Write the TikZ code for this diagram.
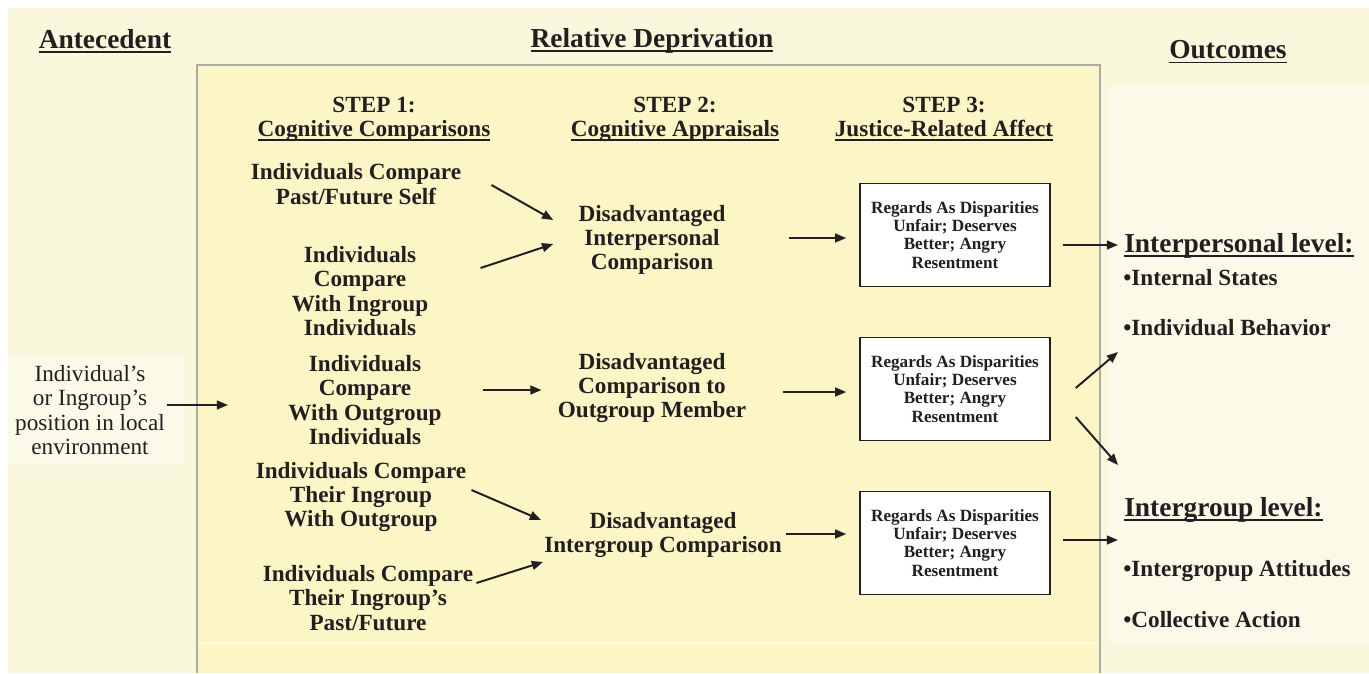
\documentclass[tikz,border=0pt]{standalone}
\usepackage{fontspec}
\setmainfont{Liberation Serif}
\usetikzlibrary{arrows.meta, positioning, calc}

\definecolor{creambg}{HTML}{FAF8DC}
\definecolor{stepfill}{HTML}{FCF5C5}
\definecolor{stepline}{HTML}{ABABA0}
\definecolor{panelbg}{HTML}{FBFAE8}
\definecolor{ink}{HTML}{231F20}

% underline close to the baseline
\newcommand{\ulhead}[1]{\setbox0=\hbox{#1}\rlap{\vrule height -2.0pt depth 3.4pt width \wd0}\box0}

\begin{document}
\begin{tikzpicture}[x=0.025cm, y=-0.025cm,
    every node/.style={text=ink, inner sep=0pt},
    head/.style={font=\fontsize{19.5}{22}\selectfont\bfseries},
    steptxt/.style={align=center, font=\fontsize{16.5}{17.2}\selectfont\bfseries},
    affbox/.style={draw=ink, fill=white, line width=1pt, minimum width=4.75cm, minimum height=2.575cm,
        align=center, font=\fontsize{12.2}{12.9}\selectfont\bfseries},
    outtxt/.style={anchor=west, font=\fontsize{16.5}{17}\selectfont\bfseries},
    arr/.style={draw=ink, line width=1.4pt, -{Triangle[length=2.8mm, width=2.2mm]}}]
    \useasboundingbox (0,0) rectangle (1369,673);

    % background
    \fill[white] (0,0) rectangle (1369,673);
    \fill[creambg] (8,8) rectangle (1369,673);
    \fill[panelbg] (1108,85) rectangle (1369,643);
    \fill[panelbg] (8,355) rectangle (185,465);
    \fill[stepfill] (197,65) rectangle (1100,673);
    \draw[stepline, line width=2pt] (197,673) -- (197,65) -- (1100,65) -- (1100,673);
    \draw[white!55!stepfill, line width=1pt] (199,643) -- (1098,643);

    % headings
    \node[head] (ante) at (105,41) {\ulhead{Antecedent}};
    \node[head] (reldep) at (652,41) {\ulhead{Relative Deprivation}};
    \node[head] (outc) at (1228,52) {\ulhead{Outcomes}};

    \node[steptxt] (step1) at (374,119) {STEP 1:\\ \ulhead{Cognitive Comparisons}};
    \node[steptxt] (step2) at (675,119) {STEP 2:\\ \ulhead{Cognitive Appraisals}};
    \node[steptxt] (step3) at (944,119) {STEP 3:\\ \ulhead{Justice-Related Affect}};

    % antecedent
    \node[align=center, font=\fontsize{16.5}{17.2}\selectfont] (pos) at (90,410)
        {Individual’s\\ or Ingroup’s\\ position in local\\ environment};
    \coordinate (entry) at (228,405);

    % step 1
    \node[steptxt] (cmp1) at (356,184) {Individuals Compare\\ Past/Future Self};
    \node[steptxt] (cmp2) at (360,291) {Individuals\\ Compare\\ With Ingroup\\ Individuals};
    \node[steptxt] (cmp3) at (365,400) {Individuals\\ Compare\\ With Outgroup\\ Individuals};
    \node[steptxt] (cmp4) at (361,497) {Individuals Compare\\ Their Ingroup\\ With Outgroup};
    \node[steptxt] (cmp5) at (368,598) {Individuals Compare\\ Their Ingroup’s\\ Past/Future};

    % step 2
    \node[steptxt] (apr1) at (652,240) {Disadvantaged\\ Interpersonal\\ Comparison};
    \node[steptxt] (apr2) at (652,388) {Disadvantaged\\ Comparison to\\ Outgroup Member};
    \node[steptxt] (apr3) at (663,535) {Disadvantaged\\ Intergroup Comparison};

    % step 3
    \node[affbox] (aff1) at (955,235) {Regards As Disparities\\ Unfair; Deserves\\ Better; Angry\\ Resentment};
    \node[affbox] (aff2) at (955,389) {Regards As Disparities\\ Unfair; Deserves\\ Better; Angry\\ Resentment};
    \node[affbox] (aff3) at (955,543) {Regards As Disparities\\ Unfair; Deserves\\ Better; Angry\\ Resentment};

    % outcomes
    \node[outtxt, font=\fontsize{19.5}{22}\selectfont\bfseries] (inter) at (1124,246) {\ulhead{Interpersonal level:}};
    \node[outtxt] (states) at (1123,278) {•Internal States};
    \node[outtxt] (behav) at (1123,328) {•Individual Behavior};
    \node[outtxt, font=\fontsize{19.5}{22}\selectfont\bfseries] (group) at (1124,510) {\ulhead{Intergroup level:}};
    \node[outtxt] (attit) at (1123,571) {•Intergropup Attitudes};
    \node[outtxt] (collect) at (1123,620) {•Collective Action};
    \coordinate (out1) at (1118,245);
    \coordinate (out2) at (1118,352);
    \coordinate (out3) at (1118,465);
    \coordinate (out4) at (1118,540);

    % arrows
    \draw[arr] ([shift={(2,-5)}]pos.east) -- (entry);
    \draw[arr] ([shift={(30,1)}]cmp1.east) -- ([shift={(-25,-20)}]apr1.west);
    \draw[arr] ([shift={(52,-23)}]cmp2.east) -- ([shift={(-25,4)}]apr1.west);
    \draw[arr] ([shift={(41,-10)}]cmp3.east) -- ([shift={(-16,2)}]apr2.west);
    \draw[arr] ([shift={(5,-7)}]cmp4.east) -- ([shift={(-3,-15)}]apr3.west);
    \draw[arr] ([shift={(3,-15)}]cmp5.east) -- ([shift={(-1,27)}]apr3.west);
    \draw[arr] ([shift={(63,-2)}]apr1.east) -- ([shift={(-13,3)}]aff1.west);
    \draw[arr] ([shift={(37,4)}]apr2.east) -- ([shift={(-13,3)}]aff2.west);
    \draw[arr] ([shift={(4,-1)}]apr3.east) -- ([shift={(-13,-9)}]aff3.west);
    \draw[arr] ([shift={(12,10)}]aff1.east) -- (out1);
    \draw[arr] ([shift={(25,-1)}]aff2.east) -- (out2);
    \draw[arr] ([shift={(25,28)}]aff2.east) -- (out3);
    \draw[arr] ([shift={(12,-3)}]aff3.east) -- (out4);
\end{tikzpicture}
\end{document}
